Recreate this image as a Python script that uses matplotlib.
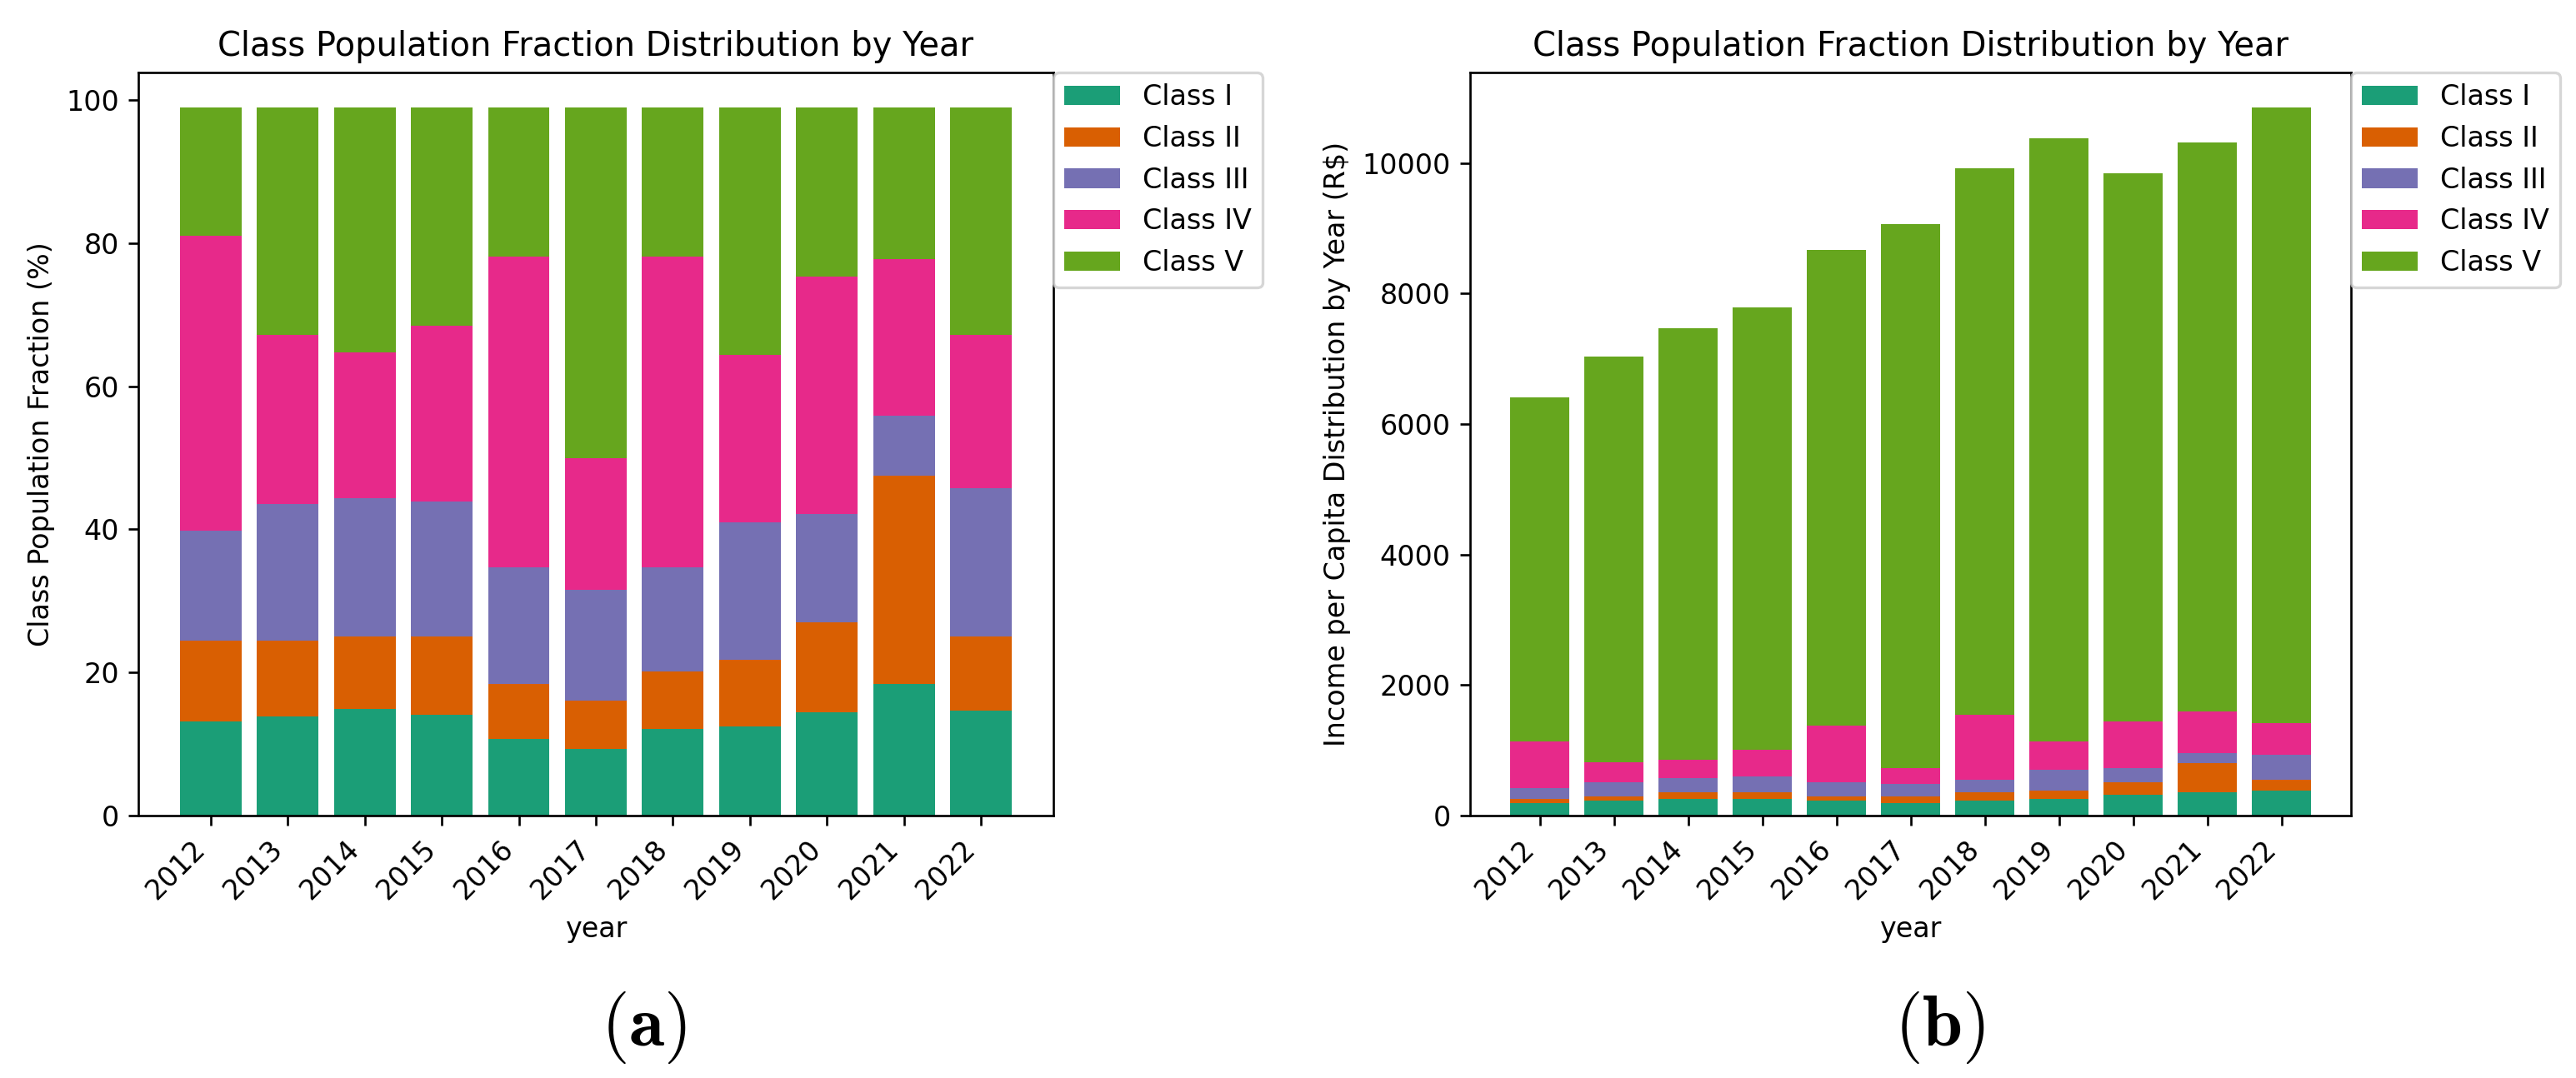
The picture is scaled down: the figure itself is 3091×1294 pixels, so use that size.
import matplotlib
matplotlib.use("Agg")
import matplotlib.pyplot as plt
import numpy as np

years = ["2012", "2013", "2014", "2015", "2016", "2017", "2018", "2019", "2020", "2021", "2022"]
classes = ["Class I", "Class II", "Class III", "Class IV", "Class V"]
colors = ["#1b9e77", "#d95f02", "#7570b3", "#e7298a", "#66a61e"]

# population fraction (%) per class
frac_I = [13.2, 13.8, 14.9, 14.1, 10.7, 9.3, 12.1, 12.5, 14.4, 18.4, 14.7]
frac_II = [11.2, 10.6, 10.1, 10.9, 7.7, 6.8, 8.0, 9.3, 12.6, 29.1, 10.3]
frac_III = [15.4, 19.1, 19.4, 18.9, 16.3, 15.4, 14.6, 19.2, 15.2, 8.4, 20.8]
frac_IV = [41.2, 23.7, 20.3, 24.5, 43.4, 18.4, 43.4, 23.4, 33.1, 21.9, 21.4]
frac_V = [17.9, 31.7, 34.2, 30.5, 20.8, 49.0, 20.8, 34.5, 23.6, 21.1, 31.7]

# income per capita (R$) per class
inc_I = [190, 227, 257, 257, 227, 190, 227, 257, 318, 353, 383]
inc_II = [67, 61, 98, 98, 61, 98, 128, 126, 197, 449, 162]
inc_III = [159, 227, 220, 251, 227, 192, 190, 323, 217, 157, 383]
inc_IV = [717, 307, 276, 404, 868, 242, 1000, 427, 714, 641, 491]
inc_V = [5282, 6213, 6624, 6775, 7282, 8346, 8370, 9247, 8404, 8715, 9428]

W, H, DPI = 3091, 1294, 240
fig = plt.figure(figsize=(W / DPI, H / DPI), dpi=DPI)

ax1 = fig.add_axes([0.0537, 0.2434, 0.3552, 0.6894])
ax2 = fig.add_axes([0.5707, 0.2434, 0.3420, 0.6894])


def stacked(ax, series, ylabel):
    bottom = np.zeros(len(years))
    for name, vals, c in zip(classes, series, colors):
        ax.bar(years, vals, bottom=bottom, color=c, label=name, width=0.8)
        bottom += np.array(vals)
    ax.set_title("Class Population Fraction Distribution by Year", fontsize=12)
    ax.set_xlabel("year")
    ax.set_ylabel(ylabel)
    plt.setp(ax.get_xticklabels(), rotation=45, ha="right")
    ax.legend(loc="upper left", bbox_to_anchor=(1, 1), borderaxespad=0)


stacked(ax1, [frac_I, frac_II, frac_III, frac_IV, frac_V], "Class Population Fraction (%)")
stacked(ax2, [inc_I, inc_II, inc_III, inc_IV, inc_V], "Income per Capita Distribution by Year (R$)")

plt.rcParams["mathtext.fontset"] = "cm"
fig.text(0.2498, 0.0464, r"$\mathbf{(a)}$", fontsize=26, ha="center", va="center")
fig.text(0.7531, 0.0464, r"$\mathbf{(b)}$", fontsize=26, ha="center", va="center")

fig.savefig("out.png", dpi=DPI)
